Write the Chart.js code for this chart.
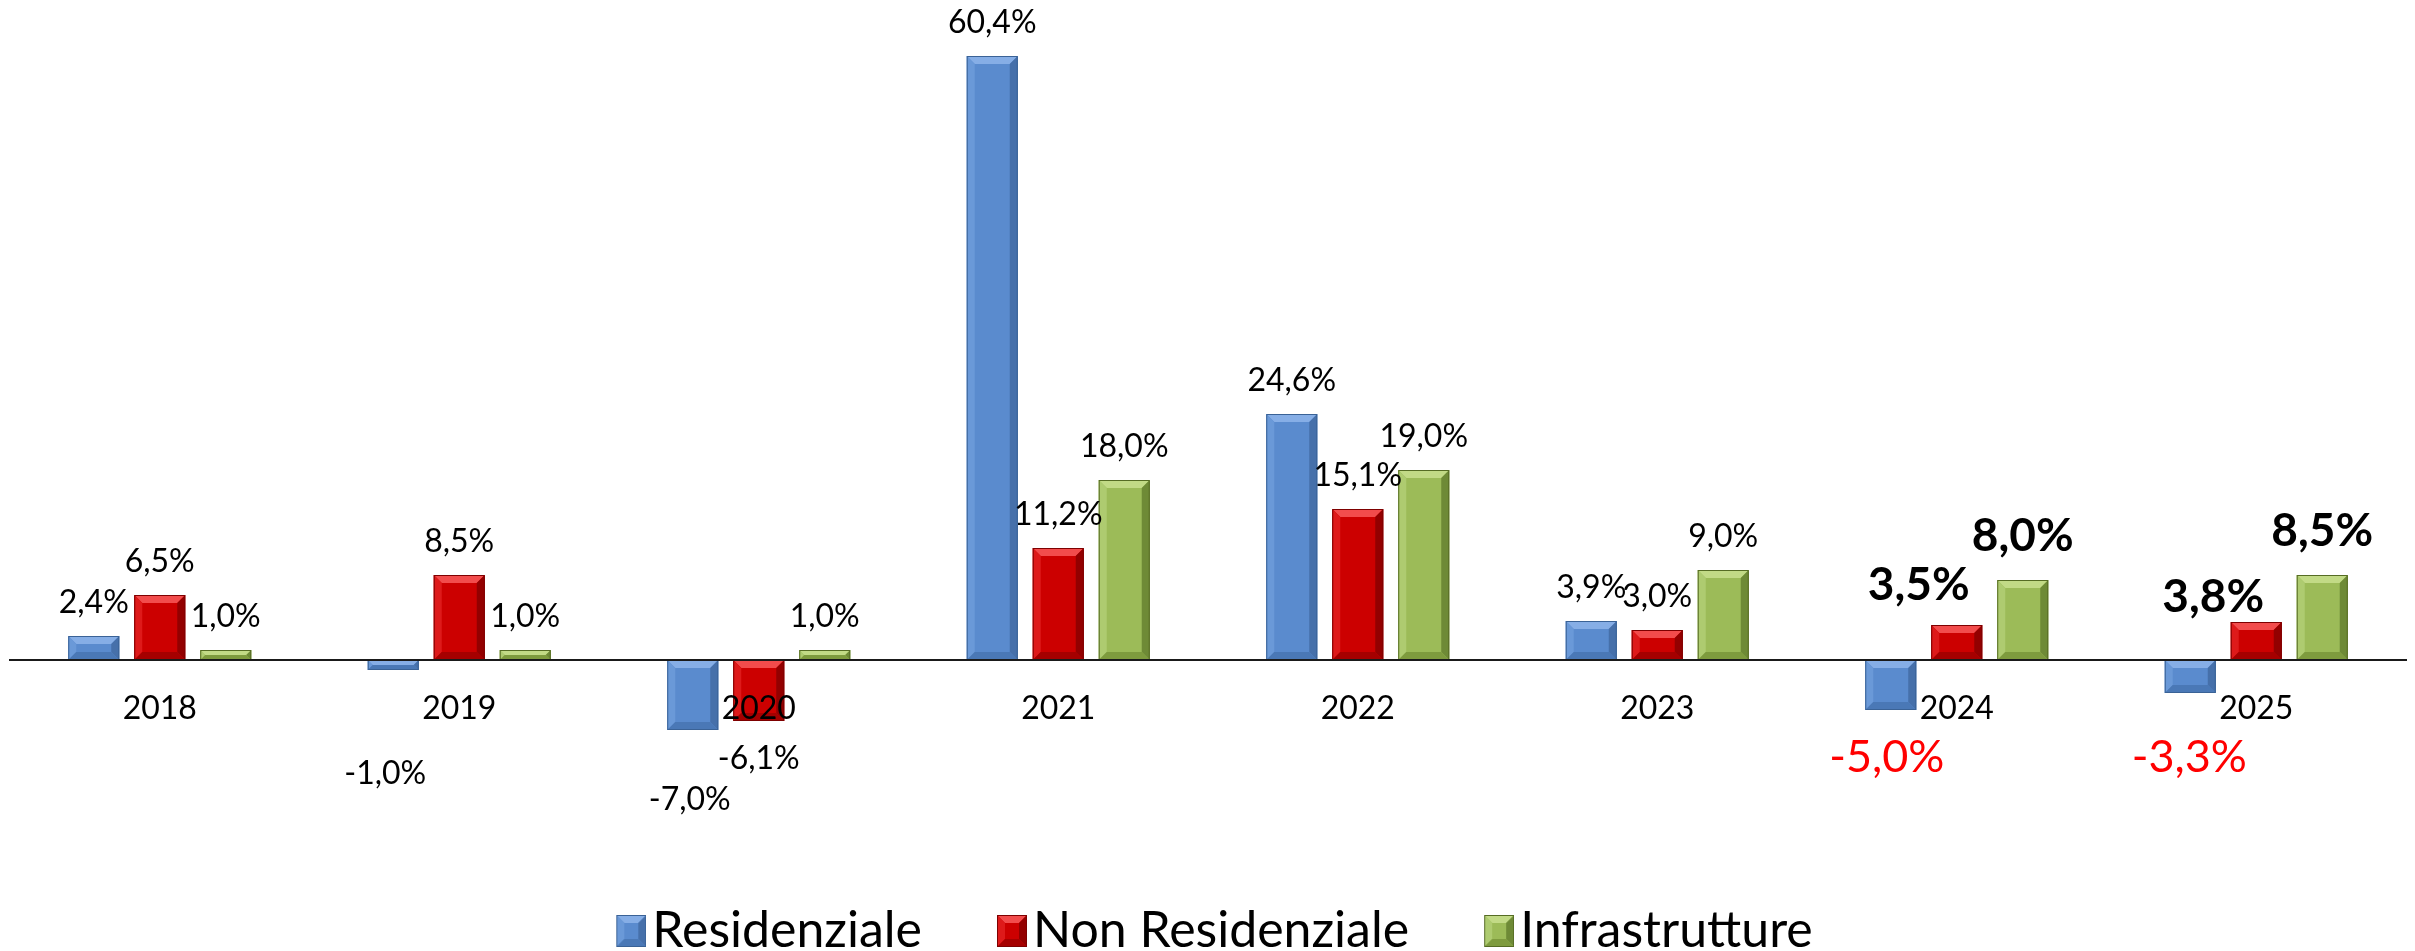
<!DOCTYPE html>
<html><head><meta charset="utf-8">
<script src="https://cdn.jsdelivr.net/npm/chart.js@4.4.1/dist/chart.umd.min.js"></script>
<style>html,body{margin:0;padding:0;background:#fff;overflow:hidden}canvas{display:block}</style>
</head><body>
<canvas id="c" width="2415" height="951"></canvas>
<script>
// ---- data ----
const years = ['2018','2019','2020','2021','2022','2023','2024','2025'];
const seriesNames = ['Residenziale','Non Residenziale','Infrastrutture'];
const residenziale = [2.4, -1.0, -7.0, 60.4, 24.6, 3.9, -5.0, -3.3];
const nonResidenziale = [6.5, 8.5, -6.1, 11.2, 15.1, 3.0, 3.5, 3.8];
const infrastrutture = [1.0, 1.0, 1.0, 18.0, 19.0, 9.0, 8.0, 8.5];
const forecastYears = ['2024','2025'];

// manual label nudges "series:index" -> [dx, dy]
const labelNudges = {
  '0:1': [-8, 66], '0:2': [-3, 32], '0:6': [-4, 9], '0:7': [-1, 26],
  '1:6': [-38, 4], '1:7': [-43, 19]
};

const palette = [
  {face:'#5A8BCE', top:'#86AEE6', left:'#6A99D8', right:'#4670AA', bottom:'#4A78B6', edge:'#3A6296'},
  {face:'#CC0000', top:'#F24C4C', left:'#DE1A1A', right:'#930000', bottom:'#A50000', edge:'#7E0000'},
  {face:'#9CBB58', top:'#C2DA86', left:'#AECB70', right:'#6E8A36', bottom:'#7E9B3E', edge:'#566C24'}
];

Chart.defaults.font.family = 'Lato';
Chart.defaults.color = '#000';

function fmt(v){ return v.toFixed(1).replace('.', ',') + '%'; }

function poly(ctx, pts, color){
  ctx.beginPath();
  ctx.moveTo(pts[0][0], pts[0][1]);
  for (let i = 1; i < pts.length; i++) ctx.lineTo(pts[i][0], pts[i][1]);
  ctx.closePath();
  ctx.fillStyle = color;
  ctx.fill();
}

function drawBevel(ctx, l, t, r, b, p){
  const h = b - t, w = r - l;
  const s = Math.min(8, h / 2, w / 2);
  ctx.save();
  poly(ctx, [[l,t],[r,t],[r-s,t+s],[l+s,t+s]], p.top);
  poly(ctx, [[l,t],[l+s,t+s],[l+s,b-s],[l,b]], p.left);
  poly(ctx, [[r,t],[r,b],[r-s,b-s],[r-s,t+s]], p.right);
  poly(ctx, [[l,b],[r,b],[r-s,b-s],[l+s,b-s]], p.bottom);
  ctx.strokeStyle = p.edge;
  ctx.lineWidth = 1;
  ctx.strokeRect(l + 0.5, t + 0.5, w - 1, h - 1);
  ctx.restore();
}

// legend icons
const legendFontSize = 50;
const legendBoxWidth = 24;
const markerW = 30, markerH = 32, markerGap = 6;
function makeIcon(p){
  const half = legendBoxWidth / 2 + legendFontSize / 2 - markerGap;
  const c = document.createElement('canvas');
  c.width = Math.round(half * 2);
  c.height = markerH;
  const g = c.getContext('2d');
  const l = c.width - markerW;
  g.fillStyle = p.face;
  g.fillRect(l, 0, markerW, markerH);
  drawBevel(g, l, 0, c.width, markerH, p);
  return c;
}
const legendIcons = palette.map(makeIcon);

const bevelPlugin = {
  id: 'bevel',
  afterDatasetsDraw(chart){
    const ctx = chart.ctx;
    chart.data.datasets.forEach((ds, di) => {
      chart.getDatasetMeta(di).data.forEach(bar => {
        const {x, y, base, width} = bar.getProps(['x','y','base','width'], true);
        drawBevel(ctx, x - width / 2, Math.min(y, base), x + width / 2, Math.max(y, base), palette[di]);
      });
    });
  }
};

const labelPlugin = {
  id: 'valueLabels',
  afterDatasetsDraw(chart){
    const ctx = chart.ctx;
    ctx.save();
    ctx.textAlign = 'center';
    ctx.textBaseline = 'middle';
    chart.data.datasets.forEach((ds, di) => {
      chart.getDatasetMeta(di).data.forEach((bar, i) => {
        const v = ds.data[i];
        const fc = forecastYears.includes(years[i]);
        let font = '400 32px Lato', color = '#000';
        if (fc && v < 0) { font = '400 45px Lato'; color = '#FF0000'; }
        else if (fc) { font = '700 46px Lato'; }
        const above = v >= 0;
        const off = above ? (fc ? 44 : 33) : 38;
        const n = labelNudges[di + ':' + i] || [0, 0];
        const ly = above ? bar.y - off : bar.y + off;
        ctx.font = font;
        ctx.fillStyle = color;
        ctx.fillText(fmt(v), bar.x + n[0], ly + n[1]);
      });
    });
    ctx.restore();
  }
};

const seriesData = [residenziale, nonResidenziale, infrastrutture];

new Chart(document.getElementById('c'), {
  type: 'bar',
  data: {
    labels: years,
    datasets: seriesData.map((d, i) => ({
      label: seriesNames[i],
      data: d,
      backgroundColor: palette[i].face,
      borderWidth: 0,
      categoryPercentage: 0.661,
      barPercentage: 0.773
    }))
  },
  options: {
    responsive: false,
    animation: false,
    devicePixelRatio: 1,
    layout: {padding: {left: 10, right: 9, top: 0, bottom: -15}},
    scales: {
      x: {
        position: {y: 0},
        grid: {display: false, drawTicks: false},
        border: {display: true, color: '#1a1a1a', width: 2, z: 1},
        ticks: {font: {size: 32}, color: '#000', padding: 29, z: 1}
      },
      y: {display: false, min: -18.4, max: 66}
    },
    plugins: {
      tooltip: {enabled: false},
      legend: {
        position: 'bottom',
        labels: {
          usePointStyle: true,
          boxWidth: legendBoxWidth,
          padding: 62,
          font: {size: legendFontSize},
          color: '#000',
          generateLabels(chart){
            const items = Chart.defaults.plugins.legend.labels.generateLabels(chart);
            items.forEach((it, i) => { it.pointStyle = legendIcons[i]; it.fontColor = '#000'; });
            return items;
          }
        }
      }
    }
  },
  plugins: [bevelPlugin, labelPlugin]
});
</script>
</body></html>
